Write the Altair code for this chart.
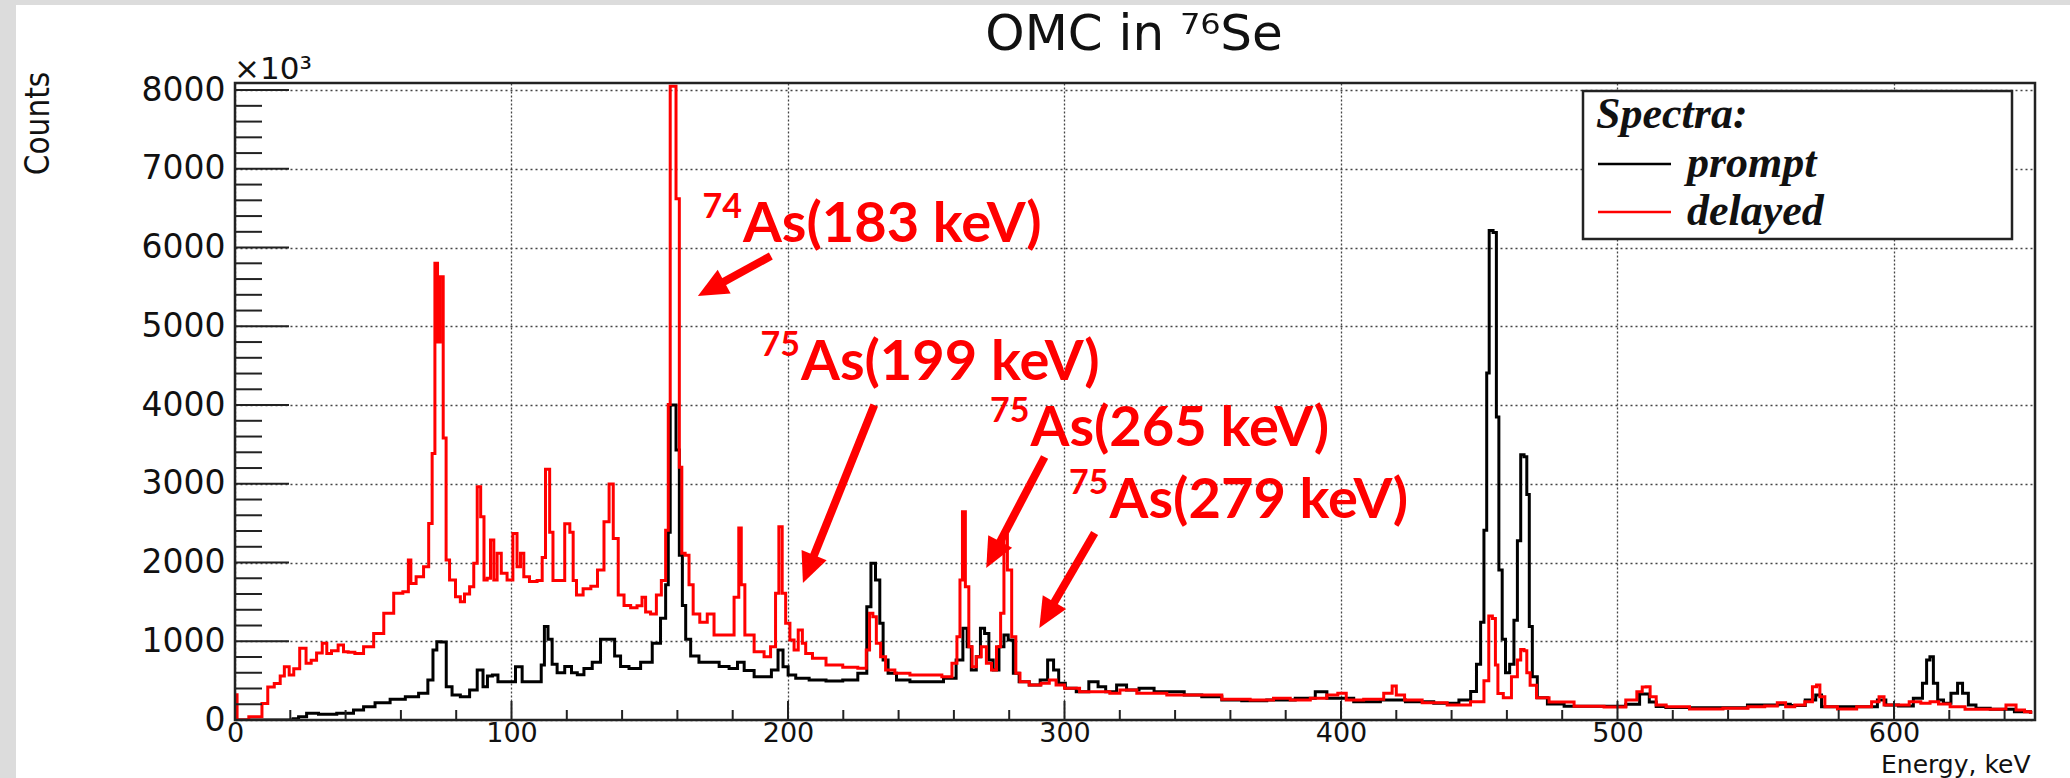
import math
import altair as alt
import pandas as pd

# ---------------- data ----------------
prompt_keV = [0, 20, 22, 24, 27.8, 32.6, 41, 44.7, 48.3, 53, 59.2, 64, 68.8, 70.7, 72.5, 73.5, 75.5, 77.3,
              79.7, 83.3, 86.4, 88.8, 90.6, 92, 94.2, 96, 100.2, 102.7, 105, 110, 111.5, 112.3, 114.1, 115.3,
              117.7, 120.8, 122.6, 125, 127.4, 131, 133.4, 136.4, 138.2, 140.7, 144.3, 149.1, 152.7, 155.1,
              156.4, 157, 157.8, 158.8, 160.2, 161.2, 162.4, 163.6, 166, 169.6, 173.3, 176.9, 180.5, 183, 185.3,
              190.2, 192.5, 195.5, 197.3, 199.1, 201, 204.6, 210.7, 216.8, 222.8, 227.7, 229.3, 230.7, 232.6,
              233.8, 235, 237.4, 241.1, 247.1, 253.2, 259.3, 262.3, 264.2, 265.4, 267.2, 269, 270.2, 272,
              273.3, 275.1, 277.5, 278.7, 280.6, 282.4, 284.8, 289.7, 292.7, 295.1, 297, 298.8, 301.8, 306.7,
              310.9, 313.4, 316.4, 321.3, 323.6, 330.3, 334.5, 340, 346.6, 352.7, 361.1, 367.1, 379.2, 387.7,
              393.7, 396.1, 399.8, 409.4, 419.1, 427.5, 439.6, 445.7, 448.1, 449.9, 451.1, 452.3, 453.1, 454.1,
              455.9, 456.5, 457.7, 458.9, 460.1, 461.9, 463.2, 464.4, 465.6, 466.8, 467.6, 468.6, 469.8, 472.2,
              477.1, 484.3, 500, 506, 510, 513, 515, 520, 532, 544, 550, 556, 560, 565, 570.8, 572.6, 575,
              592.5, 595.5, 598.6, 604.6, 609.4, 611.2, 612.4, 613.6, 614.9, 616.7, 619.1, 622.1, 623.9, 625.7,
              628.1, 631.2, 638.4, 648.7, 650]
prompt_counts = [0, 0, 15, 42, 85, 72, 85, 127, 169, 220, 262, 296, 339, 508, 889, 995, 990, 423,
                 317, 296, 381, 635, 423, 560, 571, 487, 487, 677, 487, 487, 700, 1187, 1027, 708,
                 601, 681, 601, 575, 655, 735, 1027, 1027, 814, 681, 655, 735, 974, 1293,
                 1719, 2385, 4000, 4000, 3430, 2092, 1453, 1027, 814, 735, 735, 681, 655, 735, 628,
                 548, 550, 635, 889, 677, 571, 529, 508, 495, 508, 593, 1439, 1990, 1778,
                 1228, 762, 593, 508, 487, 487, 529, 762, 1164, 931, 635, 804, 1164, 1100,
                 762, 635, 931, 1079, 1016, 593, 487, 444, 508, 762, 635, 466, 402, 360,
                 487, 423, 360, 444, 381, 402, 360, 360, 317, 296, 254, 246, 254, 275,
                 360, 275, 275, 233, 254, 233, 212, 254, 362, 708, 1240, 2411, 4407, 6217,
                 6190, 3848, 1906, 1027, 601, 708, 1267, 2278, 3369, 3343, 2864, 1187, 548, 282,
                 202, 176, 176, 200, 330, 230, 170, 160, 157, 157, 190, 190, 200, 185, 254, 317, 169,
                 169, 254, 190, 178, 275, 466, 762, 804, 466, 254, 212, 339, 466, 339,
                 190, 148, 135, 106, 100]

delayed_keV = [0, 1.5, 8.5, 11, 12.7, 15.7, 17, 18.7, 20.5, 22, 24.8, 26.6, 28.5, 30.5, 32.6, 33.8, 36, 38.6,
               39.9, 42, 44.7, 48.3, 52, 55.6, 59.2, 62.2, 63.2, 64, 67, 69.4, 70.7, 71.9, 72.7, 73.8, 74.6,
               76, 76.7, 78.5, 81, 82, 84, 85.7, 87, 88.2, 89.5, 90.6, 91.8, 93, 94.2, 95.4, 97.2, 99.6,
               101.4, 102.6, 103.9, 105, 108, 110.5, 111.7, 112.9, 114.7, 115.3, 118.3, 120.2, 122, 122.6,
               124.4, 127.4, 130, 132.2, 134.7, 135.9, 137.7, 139.5, 141.9, 144.3, 146.5, 147.9, 149.1,
               151.5, 153.3, 155.1, 156.4, 157, 157.8, 158.8, 160.2, 161.2, 162, 163.6, 164.8, 166.6, 169.6,
               172, 174.5, 179.3, 181.7, 182.7, 183.5, 185.3, 190.2, 192.5, 194.9, 196.1, 197.3, 198.5,
               199.8, 201.6, 202.8, 204.6, 205.8, 207, 210.7, 216.8, 222.8, 227.7, 228.9, 230.1, 231.3,
               232.6, 234.4, 236.2, 241.1, 247.1, 253.2, 258.1, 260.5, 261.7, 262.7, 263.5, 264.8, 266,
               267.2, 269, 270.8, 272.7, 274.5, 276.3, 277.5, 278.7, 280, 281.8, 283, 284.8, 289.7, 293.3,
               295.7, 298.2, 301.8, 309.1, 314, 318.8, 321.3, 331, 343, 352.7, 361.1, 373.2, 378, 385.3,
               392.5, 397.3, 400.4, 403.4, 413, 417.9, 419.1, 420.9, 425.1, 433.6, 443.2, 450.5, 452.9,
               454, 455.5, 456.2, 457.3, 460.1, 463.2, 464.4, 465.6, 466.8, 467.6, 469.2, 472.2, 478.3,
               490.3, 500, 506, 508, 509.9, 510.8, 512.8, 515.2, 520, 532.1, 544.2, 550.2, 556.3, 559.3,
               562.3, 565.9, 569.6, 571.4, 572.6, 573.8, 576.2, 582.9, 590.1, 593.7, 595.5, 597.3, 603.4,
               607.6, 611.8, 614.3, 617.9, 622.7, 628.7, 638.4, 642.6, 645.7, 648.7, 650]
delayed_counts = [320, 0, 40, 210, 420, 465, 560, 677, 570, 650, 910, 720, 760, 850, 975, 846, 880, 952,
                  868, 860, 846, 931, 1100, 1355, 1609, 1630, 2032, 1735, 1820, 1947, 2497, 3386, 5800, 4800, 5630,
                  3580, 2032, 1778, 1566, 1503, 1600, 1693, 1990, 2963, 2582, 1778, 1800, 2286, 1778, 2117, 1863, 1778,
                  2370, 1947, 2117, 1820, 1760, 1772, 2065, 3183, 2385, 1772, 1772, 2491, 2385, 1772,
                  1586, 1666, 1700, 1906, 2518, 2997, 2305, 1586, 1453, 1427, 1450, 1560, 1373,
                  1347, 1586, 1772, 2411, 4008, 8050, 8050, 6620, 3210, 2119, 2092, 1719, 1347, 1240,
                  1347, 1081, 1081, 1560, 2438, 1719, 1081, 868, 804, 931, 1609, 2455, 1609,
                  1228, 1016, 889, 1143, 974, 846, 783, 698, 669, 656, 889, 1355, 1312,
                  974, 804, 635, 593, 571, 571, 550, 720, 1058, 1778, 2646, 1693, 931,
                  677, 804, 931, 720, 635, 931, 1355, 2349, 1905, 1058, 593, 487, 444, 466,
                  508, 444, 402, 360, 360, 339, 381, 339, 317, 317, 262, 254, 275, 254,
                  275, 317, 339, 254, 262, 339, 432, 317, 254, 220, 190, 233, 500,
                  1320, 1290, 700, 335, 282, 548, 762, 894, 880, 601, 442, 282, 229,
                  176, 165, 255, 360, 420, 423, 296, 190, 169, 140, 148, 169, 178, 220,
                  169, 190, 233, 423, 444, 296, 169, 140, 169, 233, 296, 190, 190,
                  233, 212, 233, 203, 169, 135, 135, 190, 127, 106, 100]

series_names = ["prompt", "delayed"]
series_colors = ["#000000", "#ff0000"]

y_ticks_major = list(range(0, 8001, 1000))
y_ticks_minor = [v for v in range(0, 8001, 200) if v % 1000]
x_ticks_major = list(range(0, 601, 100))
x_ticks_minor = [v for v in range(0, 651, 20) if v % 100]

ann_mass = ["74", "75", "75", "75"]
ann_text = ["As(183 keV)", "As(199 keV)", "As(265 keV)", "As(279 keV)"]
ann_keV = [183.7, 204.7, 287.7, 316.3]
ann_counts = [6071, 4318, 3480, 2565]

arrow_tail_keV = [193.8, 231.2, 292.8, 310.9]
arrow_tail_counts = [5893, 4000, 3340, 2375]
arrow_tip_keV = [167.4, 205.4, 271.7, 290.9]
arrow_tip_counts = [5385, 1740, 1930, 1168]

# ---------------- layout ----------------
W, H = 1800, 637
PAD = {"left": 235, "top": 83, "right": 35, "bottom": 58}
X_MAX, Y_MAX = 651, 8090
x_scale = alt.Scale(domain=[0, X_MAX], nice=False, zero=False)
y_scale = alt.Scale(domain=[0, Y_MAX], nice=False, zero=False)
sx = W / X_MAX
sy = H / Y_MAX

AXIS_FONT = "DejaVu Sans"
NARROW = "Liberation Sans Narrow, DejaVu Sans Condensed, Liberation Sans, sans-serif"
LEG_FONT = "Liberation Serif"
ANN_FONT = "Lato, Open Sans, sans-serif"

one = pd.DataFrame({"k": [0]})

spec_df = pd.concat([
    pd.DataFrame({"keV": prompt_keV, "counts": prompt_counts, "series": series_names[0]}),
    pd.DataFrame({"keV": delayed_keV, "counts": delayed_counts, "series": series_names[1]}),
], ignore_index=True)

x_axis = alt.Axis(values=x_ticks_major, grid=True, gridDash=[2, 2], gridColor="#444", gridWidth=1.3,
                  ticks=False, tickSize=0, domain=False, labelFont=AXIS_FONT, labelFontSize=27,
                  labelColor="#111", labelPadding=0, labelFlush=False, labelOverlap=False, format="d",
                  title="Energy, keV", titleFont=AXIS_FONT, titleFontSize=25, titleFontWeight="normal",
                  titleColor="#111", titleAlign="right", titleBaseline="alphabetic",
                  titleX=1795, titleY=52)
y_axis = alt.Axis(values=y_ticks_major, grid=True, gridDash=[2, 3], gridColor="#444", gridWidth=1.3,
                  ticks=False, tickSize=0, domain=False, labelFont=AXIS_FONT, labelFontSize=33,
                  labelColor="#111", labelPadding=10, labelFlush=False, labelOverlap=False, format="d",
                  title="Counts", titleFont=NARROW, titleFontSize=33, titleFontWeight="normal",
                  titleColor="#111", titleAngle=270, titleAlign="center", titleBaseline="middle",
                  titleX=-197, titleY=40)


def X(field):
    return alt.X(field, scale=x_scale, axis=x_axis)


def Y(field):
    return alt.Y(field, scale=y_scale, axis=y_axis)


spec = alt.Chart(spec_df)
prompt_line = spec.transform_filter(alt.datum.series == series_names[0]).mark_line(
    interpolate="step", color=series_colors[0], strokeWidth=3, clip=True
).encode(x=X("keV:Q"), y=Y("counts:Q"))
delayed_line = spec.transform_filter(alt.datum.series == series_names[1]).mark_line(
    interpolate="step", color=series_colors[1], strokeWidth=3, clip=True
).encode(x=X("keV:Q"), y=Y("counts:Q"))

# ticks (ROOT style, inside the frame)
ytm = alt.Chart(pd.DataFrame({"v": y_ticks_major})).mark_rule(color="#222", strokeWidth=2).encode(
    y=Y("v:Q"), x=alt.value(0), x2=alt.value(54))
ytn = alt.Chart(pd.DataFrame({"v": y_ticks_minor})).mark_rule(color="#222", strokeWidth=2).encode(
    y=Y("v:Q"), x=alt.value(0), x2=alt.value(27))
xtm = alt.Chart(pd.DataFrame({"v": x_ticks_major})).mark_rule(color="#222", strokeWidth=2).encode(
    x=X("v:Q"), y=alt.value(H), y2=alt.value(H - 19))
xtn = alt.Chart(pd.DataFrame({"v": x_ticks_minor})).mark_rule(color="#222", strokeWidth=2).encode(
    x=X("v:Q"), y=alt.value(H), y2=alt.value(H - 10))

# page decoration
gray = alt.Chart(one).mark_rect(color="#dcdcdc")
left_strip = gray.encode(x=alt.value(-PAD["left"]), x2=alt.value(-219), y=alt.value(-PAD["top"]),
                         y2=alt.value(H + PAD["bottom"]))
top_strip = gray.encode(x=alt.value(-PAD["left"]), x2=alt.value(W + PAD["right"]), y=alt.value(-PAD["top"]),
                        y2=alt.value(-78))
frame = alt.Chart(one).mark_rect(fillOpacity=0, stroke="#222", strokeWidth=2.5).encode(
    x=alt.value(0), x2=alt.value(W), y=alt.value(0), y2=alt.value(H))

title = alt.Chart(one).mark_text(text="OMC in ⁷⁶Se", font=AXIS_FONT, fontSize=50, color="#111",
                                 align="center", baseline="alphabetic").encode(
    x=alt.value(899), y=alt.value(-33))
mult = alt.Chart(one).mark_text(text="×10³", font=AXIS_FONT, fontSize=31, color="#111",
                                align="left", baseline="alphabetic").encode(x=alt.value(-1), y=alt.value(-4))

# legend
LEG_FS = 44
leg_layers = [
    alt.Chart(one).mark_rect(fill="white", stroke="#222", strokeWidth=2.5).encode(
        x=alt.value(1348), x2=alt.value(1777), y=alt.value(8), y2=alt.value(156)),
    alt.Chart(one).mark_text(text="Spectra:", font=LEG_FONT, fontStyle="italic", fontWeight="bold",
                             fontSize=LEG_FS, color="#111", align="left", baseline="alphabetic").encode(
        x=alt.value(1361), y=alt.value(45)),
]
for i, (name, col) in enumerate(zip(series_names, series_colors)):
    leg_layers.append(alt.Chart(one).mark_rule(color=col, strokeWidth=2.5).encode(
        x=alt.value(1363), x2=alt.value(1436), y=alt.value(81 + 48 * i)))
    leg_layers.append(alt.Chart(one).mark_text(text=name, font=LEG_FONT, fontStyle="italic", fontWeight="bold",
                                               fontSize=LEG_FS, color="#111", align="left",
                                               baseline="alphabetic").encode(
        x=alt.value(1452), y=alt.value(94 + 48 * i)))

# annotations
ann_df = pd.DataFrame({"keV": ann_keV, "counts": ann_counts, "mass": ann_mass, "label": ann_text})
ann_main = alt.Chart(ann_df).mark_text(font=ANN_FONT, fontWeight="bold", fontSize=56, color="#ff0000",
                                       align="left", baseline="alphabetic").encode(
    x=X("keV:Q"), y=Y("counts:Q"), text="label:N")
ann_sup = alt.Chart(ann_df).mark_text(font=ANN_FONT, fontWeight="bold", fontSize=34, color="#ff0000",
                                      align="right", baseline="alphabetic", dx=-1, dy=-24).encode(
    x=X("keV:Q"), y=Y("counts:Q"), text="mass:N")

HEAD = 30.0
rows = []
for tk, tc, hk, hc in zip(arrow_tail_keV, arrow_tail_counts, arrow_tip_keV, arrow_tip_counts):
    dx = (hk - tk) * sx
    dy = -(hc - tc) * sy
    L = math.hypot(dx, dy)
    ux, uy = dx / L, dy / L
    ang = math.degrees(math.atan2(dx, -dy)) % 360
    ek = hk - ux * (HEAD - 4) / sx
    ec = hc + uy * (HEAD - 4) / sy
    rows.append({"tk": tk, "tc": tc, "ek": ek, "ec": ec, "hk": hk, "hc": hc, "ang": ang})
arr_df = pd.DataFrame(rows)
shaft = alt.Chart(arr_df).mark_rule(color="#ff0000", strokeWidth=8, strokeCap="butt").encode(
    x=X("tk:Q"), y=Y("tc:Q"), x2="ek:Q", y2="ec:Q")
head = alt.Chart(arr_df).mark_point(shape="M0,0 L-0.9,2 L0.9,2 Z", filled=True, size=HEAD ** 2,
                                    color="#ff0000", opacity=1, strokeWidth=0).encode(
    x=X("hk:Q"), y=Y("hc:Q"), angle=alt.Angle("ang:Q", scale=None))

chart = alt.layer(
    prompt_line, delayed_line, ytm, ytn, xtm, xtn, left_strip, top_strip, frame, title, mult,
    *leg_layers, shaft, head, ann_main, ann_sup
).properties(
    width=W, height=H, padding=PAD, autosize=alt.AutoSizeParams(type="none"), background="white"
).configure_view(stroke=None)

chart.save("out.html", embed_options={"renderer": "svg", "actions": False})
